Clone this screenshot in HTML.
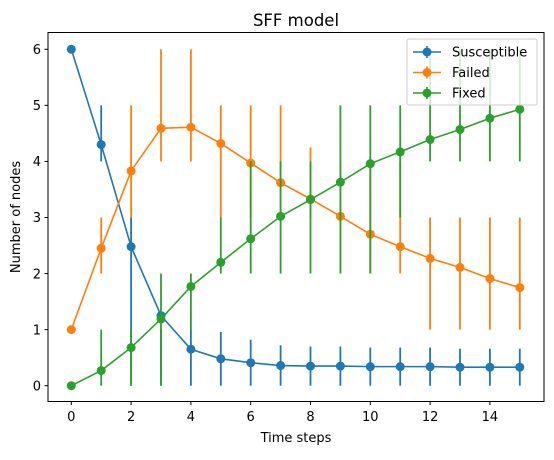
<!DOCTYPE html>
<html><head><meta charset="utf-8">
<style>
body{margin:0;background:#fff;}
svg text{font-family:"DejaVu Sans","Liberation Sans",sans-serif;fill:#000;}
</style></head>
<body>
<svg id="chart" width="554" height="455" viewBox="0 0 554 455" xmlns="http://www.w3.org/2000/svg">
<rect x="0" y="0" width="554" height="455" fill="#fff"/>
<g id="marks"></g>
<rect x="48" y="32.5" width="496" height="369" fill="none" stroke="#000" stroke-width="1"/>
<g id="axes"></g>
<text x="296" y="26" font-size="16.5" text-anchor="middle">SFF model</text>
<text x="296" y="442" font-size="13" text-anchor="middle">Time steps</text>
<text transform="translate(20,217) rotate(-90)" font-size="13" text-anchor="middle">Number of nodes</text>
<g>
<rect x="407" y="39" width="130" height="66" fill="#fff" fill-opacity="0.8" stroke="#ccc" rx="2"/>
<g id="legend-entries"></g>
</g>
</svg>
<script>
const steps=[0,1,2,3,4,5,6,7,8,9,10,11,12,13,14,15];
const seriesNames=["Susceptible","Failed","Fixed"];
const colors=["#1f77b4","#ff7f0e","#2ca02c"];
const susMean=[6,4.3,2.48,1.25,0.65,0.48,0.41,0.36,0.35,0.35,0.34,0.34,0.34,0.33,0.33,0.33];
const susLo=[6,4,0,0,0,0,0,0,0,0,0,0,0,0,0,0];
const susHi=[6,5,3,1,1,0.96,0.82,0.72,0.7,0.7,0.68,0.68,0.68,0.66,0.66,0.66];
const failMean=[1,2.45,3.83,4.59,4.61,4.32,3.97,3.62,3.33,3.02,2.70,2.48,2.27,2.11,1.91,1.75];
const failLo=[1,2,3,4,4,3,3,3,3,2,2,2,1,1,1,1];
const failHi=[1,3,5,6,6,5,5,5,4.25,4,4,4,3,3,3,3];
const fixMean=[0,0.27,0.68,1.19,1.77,2.2,2.62,3.02,3.32,3.63,3.96,4.17,4.39,4.57,4.77,4.93];
const fixLo=[0,0,0,0,1,2,2,2,2,2,2,3,4,4,4,4];
const fixHi=[0,1,1,2,2,3,4,4,4,5,5,5,6,6,6,6];
const xTicks=[0,2,4,6,8,10,12,14];
const yTicks=[0,1,2,3,4,5,6];
const NS="http://www.w3.org/2000/svg";
const xs=v=>71.3+v*29.9;
const ys=v=>385.7-v*56.07;
function mk(tag,attrs,parent){const e=document.createElementNS(NS,tag);for(const k in attrs)e.setAttribute(k,attrs[k]);parent.appendChild(e);return e;}
const marks=document.getElementById('marks');
const all=[[susMean,susLo,susHi],[failMean,failLo,failHi],[fixMean,fixLo,fixHi]];
all.forEach((s,si)=>{
  const g=mk('g',{},marks);
  
  
  const [m,lo,hi]=s;
  steps.forEach((t,i)=>{
    if(hi[i]===lo[i])return;
    const l=mk('line',{x1:xs(t),x2:xs(t),y1:ys(lo[i]),y2:ys(hi[i]),stroke:colors[si],'stroke-width':1.8},g);
    
    
  });
  const p=mk('polyline',{points:steps.map((t,i)=>xs(t)+','+ys(m[i])).join(' '),fill:'none',stroke:colors[si],'stroke-width':1.6},g);
  
  
  steps.forEach((t,i)=>{
    const c=mk('circle',{cx:xs(t),cy:ys(m[i]),r:4.5,fill:colors[si]},g);
    
    
  });
});
const axes=document.getElementById('axes');
xTicks.forEach(v=>{
  const l=mk('line',{x1:xs(v),x2:xs(v),y1:401.5,y2:405,stroke:'#000'},axes);
  
  
  const t=mk('text',{x:xs(v),y:421,'font-size':13,'text-anchor':'middle'},axes);
  
  
  t.textContent=v;
});
yTicks.forEach(v=>{
  const l=mk('line',{x1:44.5,x2:48,y1:ys(v),y2:ys(v),stroke:'#000'},axes);
  
  
  const t=mk('text',{x:41,y:ys(v)+4.7,'font-size':13,'text-anchor':'end'},axes);
  
  
  t.textContent=v;
});
const le=document.getElementById('legend-entries');
seriesNames.forEach((n,i)=>{
  const y=52+i*20.5;
  const g=mk('g',{},le);
  
  
  mk('line',{x1:413,x2:441,y1:y,y2:y,stroke:colors[i],'stroke-width':1.6},g);
  mk('line',{x1:427,x2:427,y1:y-6,y2:y+6,stroke:colors[i],'stroke-width':1.6},g);
  mk('circle',{cx:427,cy:y,r:4.5,fill:colors[i]},g);
  const t=mk('text',{x:452,y:y+4.7,'font-size':13},g);
  t.textContent=n;
});
</script>
</body></html>
